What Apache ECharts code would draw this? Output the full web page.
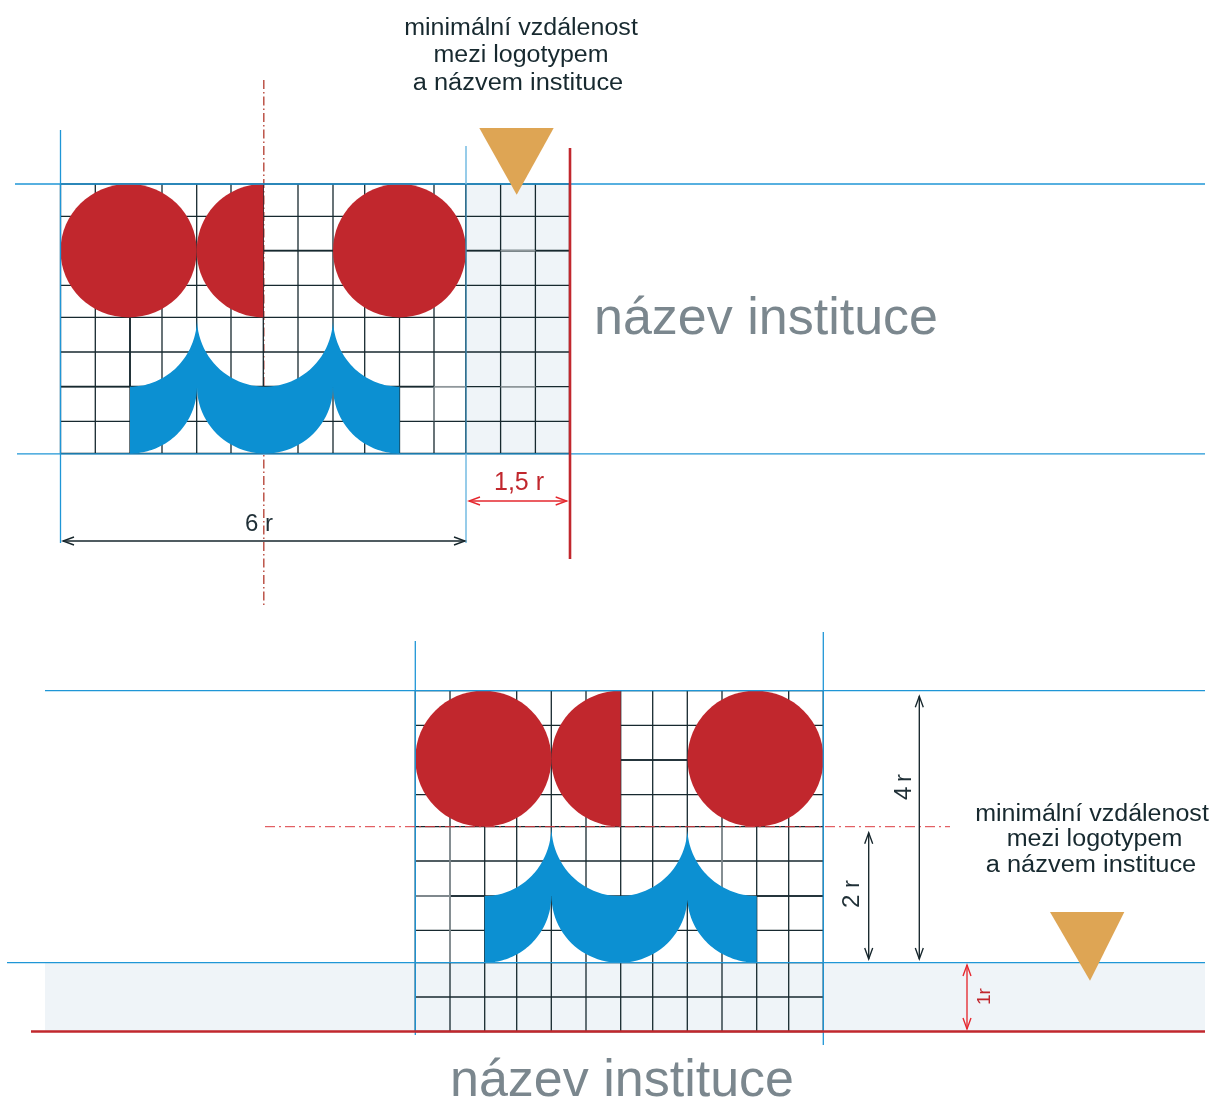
<!DOCTYPE html>
<html><head><meta charset="utf-8">
<style>html,body{margin:0;padding:0;background:#fff}#c{width:1214px;height:1100px}</style>
<script src="https://cdn.jsdelivr.net/npm/echarts@6/dist/echarts.min.js"></script>
</head><body><div id="c"></div>
<script>
// ---- values, in the axis units of the hidden x / y axes ----
const gridXTop = [60.5,95.3,130,162,196.7,231,263.3,298,333,364.7,399.5,434,465.7,500.6,535.4,569.5];
const gridYTop = [184,216.3,250.7,285.3,317.3,352,386.7,421.3,453.5];
const gridXBottom = [415.3,450,484.7,516.7,551.3,586,620.7,652.7,687.3,722,756.7,788.7,823.3];
const gridYBottom = [690.7,725.3,760,794.7,826.7,861,896,930.3,962.7,997,1031.5];
// x1,y1,x2,y2
const heavyGridSegments = [[263.3,250.7,569.5,250.7],[60.5,386.7,434,386.7],[130,317.3,130,386.7],[621,760,687,760],[450,896,484,896],[757,896,823,896]];
const fadedGridSegments = [[434,386.7,466,386.7],[500.6,386.7,535.4,386.7],[500.6,250.7,535.4,250.7],[434,386.7,434,421.3],[415.3,896,450,896],[450,826.7,450,962.7],[722,826.7,722,896]];
const shadedBands = [[466,184,569.5,453.5],[45,962.7,1205,1031.5]];
const blueLines = [[15,184,1205,184],[17,453.8,1205,453.8],[60.5,130,60.5,543],[45,690.7,1205,690.7],[7,962.7,1205,962.7],[415.3,641,415.3,1035],[823.3,632,823.3,1045]];
const paleBlueLines = [[466,146,466,184],[466,453.5,466,543]];
const shadedBlueLines = [[466,184,466,453.5]];
const redRules = [[570,148,570,559],[31,1031.5,1205,1031.5]];
const brownAxis = [[263.8,80,263.8,605]];
const redAxis = [[265,826.7,950,826.7]];
const blackArrows = [[63,541,465,541],[868.7,832.7,868.7,959],[919.3,696.3,919.3,959]];
const redArrows = [[469,501,566.7,501],[967,965,967,1029]];
// circles: cx,cy,rx,ry
const redCircles = [[128.6,250.7,68.1,66.7],[399.5,250.7,66.5,66.7],[483.3,758.7,68,68],[755.5,758.7,68,68]];
// half discs: cx,cy,rx,ry
const redHalves = [[263.3,250.7,66.6,66.7],[620.7,758.7,69.4,68]];
// scallop outlines: arcs [cx,cy,rx,ry,fromDeg,toDeg]
const blueShapeTop = [[130,318,67,68.7,90,0],[265,318,68,68.7,180,0],[399.5,318,66.5,68.7,180,90],[399.5,386.7,66.5,66.8,90,180],[265,386.7,68,66.8,0,180],[130,386.7,67,66.8,0,90]];
const blueShapeBottom = [[484.7,826.7,66.6,69.3,90,0],[619.5,826.7,68,69.3,180,0],[756.7,826.7,69.4,69.3,180,90],[756.7,896,69.4,66.7,90,180],[619.5,896,68,66.7,0,180],[484.7,896,66.6,66.7,0,90]];
const markers = [[[479.3,128],[553.7,128],[516.7,194.7]],[[1050,912],[1124.3,912],[1090,980.7]]];
// text, x, y, rotation, horizontal stretch
const noteTexts = [["minimální vzdálenost",521,29,0,1.088],["mezi logotypem",521,56,0,1.087],["a názvem instituce",518,84,0,1.105],["minimální vzdálenost",1092,815,0,1.088],["mezi logotypem",1094.5,840,0,1.09],["a názvem instituce",1091,866,0,1.105]];
const titleTexts = [["název instituce",766,319.5],["název instituce",622,1081.5]];
const darkDims = [["6 r",259,524,0],["4\u2009r",904,787,90],["2 r",852,894,90]];
const redDims = [["1,5 r",519,483,0]];
const redSmallDims = [["1r",985,996.5,90]];

const FONT = '"Liberation Sans", Arial, sans-serif';
const DARK = '#17292f', BLUE='#1f96d6', RED='#c1272d', ARROWRED='#e5272e', BLUEFILL='#0c90d2', ORANGE='#dea554', SHADE='#eff4f8';

function base(data, renderItem){
  return {type:'custom',coordinateSystem:'cartesian2d',silent:true,animation:false,clip:false,
    encode:{x:0,y:1},data:data.map((_,i)=>[i,i]),renderItem};
}
function lines(segs,color,width,dash){
  return base(segs,(p,api)=>{
    const s=segs[p.dataIndex],a=api.coord([s[0],s[1]]),b=api.coord([s[2],s[3]]);
    return {type:'line',shape:{x1:a[0],y1:a[1],x2:b[0],y2:b[1]},style:{stroke:color,lineWidth:width,lineDash:dash||null,fill:null}};
  });
}
function rects(items,color){
  return base(items,(p,api)=>{
    const s=items[p.dataIndex],a=api.coord([s[0],s[1]]),b=api.coord([s[2],s[3]]);
    return {type:'rect',shape:{x:a[0],y:a[1],width:b[0]-a[0],height:b[1]-a[1]},style:{fill:color}};
  });
}
function polys(items,color){
  return base(items,(p,api)=>({type:'polygon',shape:{points:items[p.dataIndex].map(q=>api.coord(q))},style:{fill:color}}));
}
function arcPts(a){
  const out=[],n=48;
  for(let i=0;i<=n;i++){const t=(a[4]+(a[5]-a[4])*i/n)*Math.PI/180;out.push([a[0]+a[2]*Math.cos(t),a[1]+a[3]*Math.sin(t)]);}
  return out;
}
function arrows(segs,color){
  return base(segs,(p,api)=>{
    const s=segs[p.dataIndex],a=api.coord([s[0],s[1]]),b=api.coord([s[2],s[3]]);
    const L=Math.hypot(b[0]-a[0],b[1]-a[1]),ux=(b[0]-a[0])/L,uy=(b[1]-a[1])/L,h=11,w=4;
    const st={stroke:color,lineWidth:1.35,fill:null};
    const head=(t,d)=>({type:'polyline',shape:{points:[[t[0]-d*ux*h-uy*w,t[1]-d*uy*h+ux*w],t,[t[0]-d*ux*h+uy*w,t[1]-d*uy*h-ux*w]]},style:st});
    return {type:'group',children:[{type:'line',shape:{x1:a[0],y1:a[1],x2:b[0],y2:b[1]},style:st},head(b,1),head(a,-1)]};
  });
}
function texts(items,color,size){
  return base(items,(p,api)=>{
    const s=items[p.dataIndex],a=api.coord([s[1],s[2]]);
    return {type:'text',x:a[0],y:a[1],rotation:(s[3]||0)*Math.PI/180,scaleX:s[4]||1,
      style:{text:s[0],fill:color,font:size+'px '+FONT,align:'center',verticalAlign:'middle'}};
  });
}
const gridSegs=(xs,ys)=>xs.map(x=>[x,ys[0],x,ys[ys.length-1]]).concat(ys.map(y=>[xs[0],y,xs[xs.length-1],y]));

const chart=echarts.init(document.getElementById('c'),null,{renderer:'canvas'});
chart.setOption({
  animation:false,
  backgroundColor:'#fff',
  grid:{left:0,right:0,top:0,bottom:0},
  xAxis:{type:'value',min:0,max:1214,show:false},
  yAxis:{type:'value',min:0,max:1100,inverse:true,show:false},
  series:[
    rects(shadedBands,SHADE),
    lines(brownAxis,'#b8483c',1.4,[9,3,1.5,3]),
    lines(gridSegs(gridXTop,gridYTop),DARK,1.3),
    lines(gridSegs(gridXBottom,gridYBottom),DARK,1.3),
    lines(heavyGridSegments,DARK,1.7),
    lines(fadedGridSegments,'#8f979b',1.5),
    base(redCircles,(p,api)=>{
      const s=redCircles[p.dataIndex],c=api.coord([s[0],s[1]]),e=api.coord([s[0]+s[2],s[1]+s[3]]);
      return {type:'ellipse',shape:{cx:c[0],cy:c[1],rx:e[0]-c[0],ry:e[1]-c[1]},style:{fill:RED}};
    }),
    polys(redHalves.map(s=>arcPts([s[0],s[1],s[2],s[3],90,270])),RED),
    polys([blueShapeTop.flatMap(arcPts),blueShapeBottom.flatMap(arcPts)],BLUEFILL),
    lines(blueLines,BLUE,1.3),
    lines(paleBlueLines,'#74bbe2',1.5),
    lines(shadedBlueLines,'#3f8fb8',1.3),
    lines(redAxis,'#dc3a40',1,[10,4,2,4]),
    lines(redRules,RED,2.6),
    polys(markers,ORANGE),
    arrows(blackArrows,'#16262c'),
    arrows(redArrows,ARROWRED),
    texts(noteTexts,DARK,23),
    texts(titleTexts,'#7b878e',52),
    texts(darkDims,'#1f2f36',24),
    texts(redDims,RED,25),
    texts(redSmallDims,RED,19)
  ]
});
</script></body></html>
